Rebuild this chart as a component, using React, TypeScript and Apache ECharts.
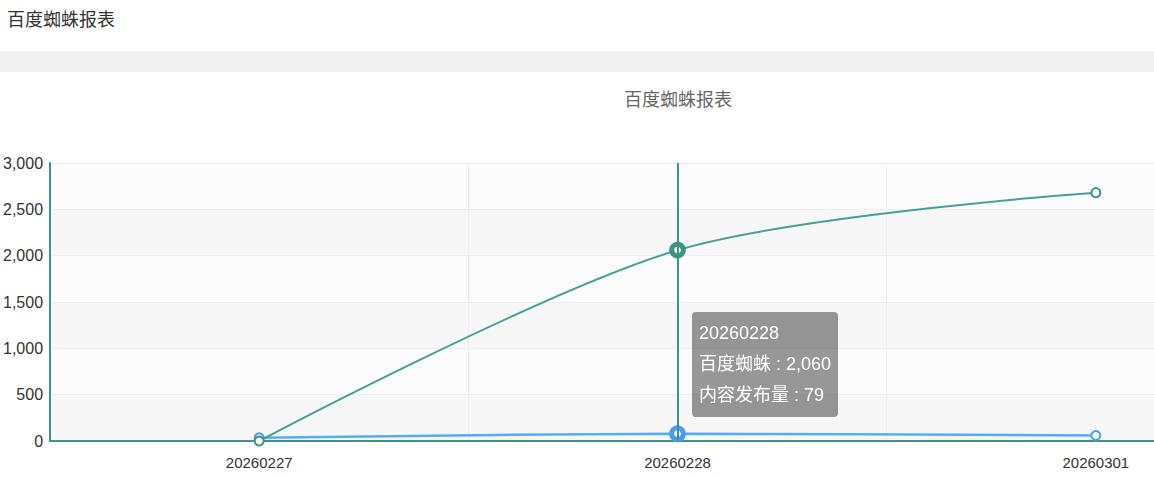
import React, { useEffect, useRef } from "react";
import * as echarts from "echarts";

const pageTitle = "百度蜘蛛报表";
const categories = ["20260227", "20260228", "20260301"];
const seriesNames = ["百度蜘蛛", "内容发布量"];
const spiderValues = [0, 2060, 2680];
const publishValues = [35, 79, 60];
const yMin = 0;
const yMax = 3000;
const yInterval = 500;

const TEAL = "#3d9483";
const BLUE = "#4a9ef0";
const FONT = '"Liberation Sans", Arial, "Noto Sans CJK SC", sans-serif';

const fmt = (v: number) => Number(v).toLocaleString("en-US");

export default function App() {
  const ref = useRef<HTMLDivElement>(null);

  useEffect(() => {
    if (!ref.current) return;
    const chart = echarts.init(ref.current, undefined, { renderer: "svg" });
    chart.setOption({
      animation: false,
      textStyle: { fontFamily: FONT },
      title: {
        text: pageTitle,
        left: "center",
        top: 14,
        textStyle: { fontSize: 18, fontWeight: "normal", color: "#666", fontFamily: FONT },
      },
      grid: { left: 50, width: 1255, top: 91, height: 278 },
      tooltip: {
        trigger: "axis",
        alwaysShowContent: true,
        triggerOn: "none",
        backgroundColor: "rgba(50,50,50,0.5)",
        borderWidth: 0,
        borderRadius: 4,
        padding: [6, 7],
        extraCssText: "box-shadow:none;",
        textStyle: { color: "#fff", fontSize: 18, fontFamily: FONT },
        position: [692, 240],
        axisPointer: { type: "line", lineStyle: { color: TEAL, width: 2, type: "solid" } },
        formatter: (params: any) => {
          const arr = Array.isArray(params) ? params : [params];
          const lines = [arr[0].name].concat(arr.map((p: any) => `${p.seriesName} : ${fmt(p.value)}`));
          return lines.map((l) => `<div style="line-height:31px">${l}</div>`).join("");
        },
      },
      xAxis: {
        type: "category",
        data: categories,
        boundaryGap: true,
        axisLine: { show: true, lineStyle: { color: TEAL, width: 2 } },
        axisTick: { show: false },
        axisLabel: { color: "#333", fontSize: 15, margin: 14, fontFamily: FONT },
        splitLine: { show: true, lineStyle: { color: "#eee", width: 1 } },
      },
      yAxis: {
        type: "value",
        min: yMin,
        max: yMax,
        interval: yInterval,
        axisLine: { show: true, lineStyle: { color: TEAL, width: 2 } },
        axisTick: { show: false },
        axisLabel: { color: "#333", fontSize: 16, margin: 7, fontFamily: FONT, formatter: (v: number) => fmt(v) },
        splitLine: { show: true, lineStyle: { color: "#eee", width: 1 } },
        splitArea: { show: true, areaStyle: { color: ["#f7f7f7", "#fcfcfc"] } },
      },
      series: [
        {
          name: seriesNames[0],
          type: "line",
          smooth: 0.3,
          data: spiderValues,
          z: 3,
          symbol: "emptyCircle",
          symbolSize: 9,
          lineStyle: { color: TEAL, width: 2 },
          itemStyle: { color: TEAL, borderColor: TEAL, borderWidth: 2 },
          emphasis: { scale: 1.3, itemStyle: { borderWidth: 5 } },
        },
        {
          name: seriesNames[1],
          type: "line",
          smooth: 0.3,
          data: publishValues,
          z: 2,
          symbol: "emptyCircle",
          symbolSize: 9,
          lineStyle: { color: BLUE, width: 2.5 },
          itemStyle: { color: BLUE, borderColor: BLUE, borderWidth: 2 },
          emphasis: { scale: 1.3, itemStyle: { borderWidth: 5 } },
        },
      ],
    });
    chart.dispatchAction({ type: "showTip", seriesIndex: 0, dataIndex: 1 });
    return () => chart.dispose();
  }, []);

  return (
    <div
      style={{
        position: "absolute",
        left: 0,
        top: 0,
        width: 1154,
        height: 478,
        overflow: "hidden",
        background: "#fff",
        fontFamily: FONT,
      }}
    >
      <div style={{ position: "absolute", left: 7, top: 9, fontSize: 18, lineHeight: "22px", color: "#333" }}>
        {pageTitle}
      </div>
      <div style={{ position: "absolute", left: 0, top: 51, width: 1154, height: 21, background: "#f1f1f1" }} />
      <div ref={ref} style={{ position: "absolute", left: 0, top: 72, width: 1356, height: 406 }} />
    </div>
  );
}
